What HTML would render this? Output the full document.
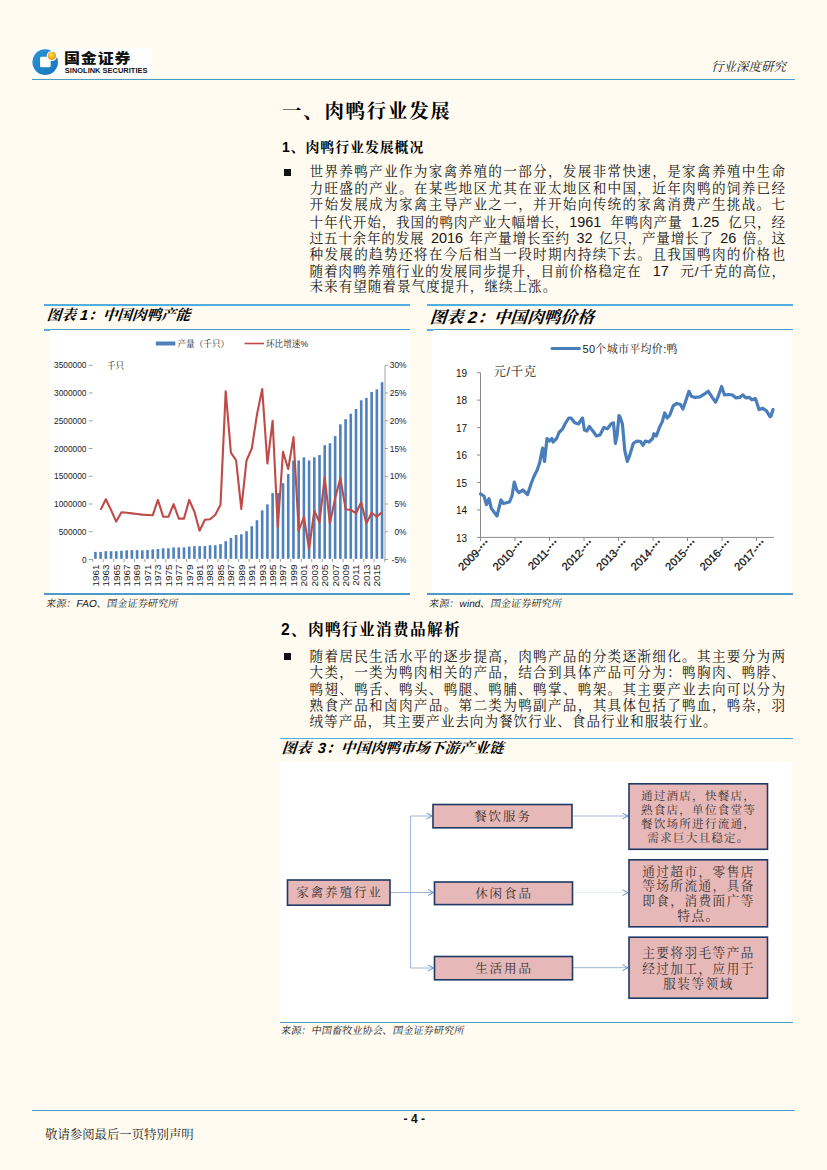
<!DOCTYPE html>
<html lang="zh-CN"><head><meta charset="utf-8"><title>行业深度研究</title>
<style>
*{margin:0;padding:0;box-sizing:border-box}
html,body{width:827px;height:1170px;overflow:hidden;background:#fffbf0}
body{position:relative;font-family:"Liberation Sans","Noto Serif CJK SC",serif;color:#111}
.abs{position:absolute;white-space:nowrap}
.ln{position:absolute;left:309.5px;width:476.3px;height:16.45px;line-height:16.45px;font-size:13.6px;letter-spacing:0.7px;white-space:nowrap;text-align:justify;text-align-last:justify;color:#151515}
.ln.last{text-align:left;text-align-last:left;width:auto;letter-spacing:0.98px}
.hl{position:absolute;background:#50aee0}
.ft{position:absolute;font-weight:bold;font-style:italic;white-space:nowrap;color:#000;transform:skewX(-5deg);transform-origin:0 100%}
.src{position:absolute;margin-left:-1px;font-size:10.2px;transform:skewX(-9deg);transform-origin:0 100%;white-space:nowrap;color:#222;height:12px;line-height:12px}
.n{letter-spacing:0;font-size:14.4px}
.bul{position:absolute;left:284px;width:7px;height:7px;background:#111}
svg{position:absolute;left:0;top:0;overflow:visible}
svg text{font-family:"Liberation Sans","Noto Serif CJK SC",serif}
</style></head>
<body>
<div class="abs" style="left:32px;top:48px;width:120px;height:29px;background:#fff"></div>
<svg width="827" height="1170" viewBox="0 0 827 1170">
<defs>
<radialGradient id="gold" cx="0.4" cy="0.35" r="0.7"><stop offset="0" stop-color="#ffe070"/><stop offset="0.5" stop-color="#f6b422"/><stop offset="1" stop-color="#e0900e"/></radialGradient>
<linearGradient id="ring" x1="0" y1="0" x2="1" y2="1"><stop offset="0" stop-color="#2a94d4"/><stop offset="1" stop-color="#1676bc"/></linearGradient>
</defs>
<circle cx="45.2" cy="62.1" r="12.8" fill="url(#ring)"/>
<rect x="40.1" y="56.8" width="10.6" height="10.5" rx="1.4" fill="#fff"/>
<circle cx="51.9" cy="55.85" r="5.2" fill="#fff"/>
<circle cx="51.9" cy="55.85" r="4.1" fill="url(#gold)"/>
</svg>
<div class="abs" style="left:63.6px;top:48.5px;font-family:'Liberation Sans','Noto Sans CJK SC',sans-serif;font-weight:900;font-size:13.8px;line-height:20px;letter-spacing:0.7px;color:#111;transform:scaleX(1.16);transform-origin:0 0">国金证券</div>
<div class="abs" style="left:64.8px;top:66px;font-family:'Liberation Sans','Noto Sans CJK SC',sans-serif;font-weight:bold;font-size:7.4px;line-height:10px;letter-spacing:0.05px;color:#111">SINOLINK SECURITIES</div>
<div class="hl" style="left:32px;top:78.9px;width:763px;height:1.5px;background:#4a9bc8"></div>
<div class="abs" style="right:41px;top:59px;font-size:12.5px;line-height:16px;font-style:italic;color:#222">行业深度研究</div>
<div class="abs" style="left:282px;top:97px;font-size:19.4px;line-height:28px;font-weight:bold;letter-spacing:1.8px;color:#000">一、肉鸭行业发展</div>
<div class="abs" style="left:282px;top:136.5px;font-size:13.9px;line-height:20px;font-weight:bold;letter-spacing:0.95px;color:#000">1、肉鸭行业发展概况</div>
<div class="bul" style="top:169.0px"></div>
<div class="ln" style="top:164.28px;word-spacing:0px">世界养鸭产业作为家禽养殖的一部分，发展非常快速，是家禽养殖中生命</div>
<div class="ln" style="top:180.72px;word-spacing:0px">力旺盛的产业。在某些地区尤其在亚太地区和中国，近年肉鸭的饲养已经</div>
<div class="ln" style="top:197.18px;word-spacing:0px">开始发展成为家禽主导产业之一，并开始向传统的家禽消费产生挑战。七</div>
<div class="ln" style="top:213.62px;word-spacing:4.3px">十年代开始，我国的鸭肉产业大幅增长，<span class="n">1961</span> 年鸭肉产量 <span class="n">1.25</span> 亿只，经</div>
<div class="ln" style="top:230.08px;word-spacing:1.9px">过五十余年的发展 <span class="n">2016</span> 年产量增长至约 <span class="n">32</span> 亿只，产量增长了 <span class="n">26</span> 倍。这</div>
<div class="ln" style="top:246.53px;word-spacing:0px">种发展的趋势还将在今后相当一段时期内持续下去。且我国鸭肉的价格也</div>
<div class="ln" style="top:262.97px;word-spacing:6.8px">随着肉鸭养殖行业的发展同步提升，目前价格稳定在 <span class="n">17</span> 元/千克的高位，</div>
<div class="ln last" style="top:279.42px;word-spacing:0px">未来有望随着景气度提升，继续上涨。</div>
<div class="hl" style="left:44px;top:304.2px;width:366px;height:1.6px"></div>
<div class="hl" style="left:44px;top:329.3px;width:366px;height:1.2px;background:#4a9bc8"></div>
<div class="hl" style="left:44px;top:329px;width:6px;height:2px"></div>
<div class="ft" style="left:45.5px;top:304.5px;font-size:14.6px;line-height:20px">图表 1：中国肉鸭产能</div>
<div class="hl" style="left:427px;top:304.2px;width:365.8px;height:1.6px"></div>
<div class="hl" style="left:427px;top:329.3px;width:365.8px;height:1.2px;background:#4a9bc8"></div>
<div class="hl" style="left:427px;top:329px;width:6px;height:2px"></div>
<div class="ft" style="left:429px;top:306.5px;font-size:16.67px;line-height:22px">图表 2：中国肉鸭价格</div>
<div class="abs" style="left:50px;top:331px;width:360px;height:262px;background:#fff"></div>
<div class="abs" style="left:432px;top:331px;width:360px;height:262px;background:#fff"></div>
<div class="hl" style="left:44px;top:593.4px;width:366px;height:1.4px;background:#4a9bc8"></div>
<div class="hl" style="left:427px;top:593.4px;width:365.8px;height:1.4px;background:#4a9bc8"></div>
<div class="src" style="left:45.5px;top:598px">来源：FAO、国金证券研究所</div>
<div class="src" style="left:429px;top:598px">来源：wind、国金证券研究所</div>
<svg width="827" height="1170" viewBox="0 0 827 1170">
<g fill="#4f81bd">
<rect x="94.10" y="551.9" width="2.6" height="6.9"/>
<rect x="99.31" y="551.9" width="2.6" height="6.9"/>
<rect x="104.52" y="551.2" width="2.6" height="7.6"/>
<rect x="109.74" y="551.2" width="2.6" height="7.6"/>
<rect x="114.95" y="551.2" width="2.6" height="7.6"/>
<rect x="120.16" y="550.8" width="2.6" height="8.0"/>
<rect x="125.37" y="550.3" width="2.6" height="8.5"/>
<rect x="130.58" y="550.1" width="2.6" height="8.7"/>
<rect x="135.80" y="550.1" width="2.6" height="8.7"/>
<rect x="141.01" y="550.3" width="2.6" height="8.5"/>
<rect x="146.22" y="550.1" width="2.6" height="8.7"/>
<rect x="151.43" y="549.4" width="2.6" height="9.4"/>
<rect x="156.64" y="549.0" width="2.6" height="9.8"/>
<rect x="161.86" y="548.3" width="2.6" height="10.5"/>
<rect x="167.07" y="548.3" width="2.6" height="10.5"/>
<rect x="172.28" y="547.4" width="2.6" height="11.4"/>
<rect x="177.49" y="547.4" width="2.6" height="11.4"/>
<rect x="182.70" y="547.4" width="2.6" height="11.4"/>
<rect x="187.92" y="546.6" width="2.6" height="12.2"/>
<rect x="193.13" y="546.1" width="2.6" height="12.7"/>
<rect x="198.34" y="546.1" width="2.6" height="12.7"/>
<rect x="203.55" y="546.1" width="2.6" height="12.7"/>
<rect x="208.76" y="545.2" width="2.6" height="13.6"/>
<rect x="213.98" y="545.2" width="2.6" height="13.6"/>
<rect x="219.19" y="544.1" width="2.6" height="14.7"/>
<rect x="224.40" y="541.2" width="2.6" height="17.6"/>
<rect x="229.61" y="537.9" width="2.6" height="20.9"/>
<rect x="234.82" y="535.0" width="2.6" height="23.8"/>
<rect x="240.04" y="534.3" width="2.6" height="24.5"/>
<rect x="245.25" y="531.2" width="2.6" height="27.6"/>
<rect x="250.46" y="526.2" width="2.6" height="32.6"/>
<rect x="255.67" y="520.2" width="2.6" height="38.6"/>
<rect x="260.88" y="510.4" width="2.6" height="48.4"/>
<rect x="266.10" y="504.4" width="2.6" height="54.4"/>
<rect x="271.31" y="493.1" width="2.6" height="65.7"/>
<rect x="276.52" y="493.1" width="2.6" height="65.7"/>
<rect x="281.73" y="483.2" width="2.6" height="75.6"/>
<rect x="286.94" y="474.1" width="2.6" height="84.7"/>
<rect x="292.16" y="460.5" width="2.6" height="98.3"/>
<rect x="297.37" y="460.5" width="2.6" height="98.3"/>
<rect x="302.58" y="457.3" width="2.6" height="101.5"/>
<rect x="307.79" y="460.5" width="2.6" height="98.3"/>
<rect x="313.00" y="457.3" width="2.6" height="101.5"/>
<rect x="318.22" y="455.1" width="2.6" height="103.7"/>
<rect x="323.43" y="445.2" width="2.6" height="113.6"/>
<rect x="328.64" y="443.3" width="2.6" height="115.5"/>
<rect x="333.85" y="436.1" width="2.6" height="122.7"/>
<rect x="339.06" y="424.3" width="2.6" height="134.5"/>
<rect x="344.28" y="419.2" width="2.6" height="139.6"/>
<rect x="349.49" y="413.8" width="2.6" height="145.0"/>
<rect x="354.70" y="409.0" width="2.6" height="149.8"/>
<rect x="359.91" y="400.3" width="2.6" height="158.5"/>
<rect x="365.12" y="397.9" width="2.6" height="160.9"/>
<rect x="370.34" y="392.0" width="2.6" height="166.8"/>
<rect x="375.55" y="389.4" width="2.6" height="169.4"/>
<rect x="380.76" y="382.2" width="2.6" height="176.6"/>
</g>
<polyline points="100.6,509.9 105.8,499.3 111.0,509.9 116.2,521.6 121.5,512.2 126.7,512.8 131.9,513.4 137.1,514.0 142.3,514.6 147.5,515.0 152.7,515.3 157.9,499.9 163.2,516.8 168.4,516.8 173.6,504.1 178.8,518.6 184.0,518.6 189.2,499.9 194.4,511.7 199.6,530.7 204.9,519.8 210.1,519.3 215.3,514.8 220.5,504.8 225.7,391.2 230.9,452.7 236.1,460.3 241.3,508.9 246.5,460.5 251.8,448.5 257.0,414.4 262.2,389.0 267.4,463.5 272.6,420.8 277.8,527.0 283.0,451.7 288.2,469.0 293.5,437.1 298.7,530.7 303.9,517.0 309.1,548.8 314.3,510.7 319.5,522.5 324.7,477.2 329.9,523.4 335.2,498.0 340.4,478.1 345.6,509.2 350.8,510.0 356.0,513.2 361.2,502.3 366.4,523.4 371.6,512.7 376.8,516.8 382.1,512.0" fill="none" stroke="#be4b48" stroke-width="2.1" stroke-linejoin="round"/>
<g stroke="#8a8a8a" stroke-width="0.8">
<line x1="385" y1="365.3" x2="385" y2="559.5"/>
<line x1="88.8" y1="365.3" x2="92.6" y2="365.3"/>
<line x1="385" y1="365.3" x2="388" y2="365.3"/>
<line x1="88.8" y1="393.0" x2="92.6" y2="393.0"/>
<line x1="385" y1="393.0" x2="388" y2="393.0"/>
<line x1="88.8" y1="420.8" x2="92.6" y2="420.8"/>
<line x1="385" y1="420.8" x2="388" y2="420.8"/>
<line x1="88.8" y1="448.5" x2="92.6" y2="448.5"/>
<line x1="385" y1="448.5" x2="388" y2="448.5"/>
<line x1="88.8" y1="476.3" x2="92.6" y2="476.3"/>
<line x1="385" y1="476.3" x2="388" y2="476.3"/>
<line x1="88.8" y1="504.0" x2="92.6" y2="504.0"/>
<line x1="385" y1="504.0" x2="388" y2="504.0"/>
<line x1="88.8" y1="531.7" x2="92.6" y2="531.7"/>
<line x1="385" y1="531.7" x2="388" y2="531.7"/>
<line x1="88.8" y1="559.5" x2="92.6" y2="559.5"/>
<line x1="385" y1="559.5" x2="388" y2="559.5"/>
<line x1="92.8" y1="559" x2="92.8" y2="562"/>
<line x1="103.2" y1="559" x2="103.2" y2="562"/>
<line x1="113.6" y1="559" x2="113.6" y2="562"/>
<line x1="124.1" y1="559" x2="124.1" y2="562"/>
<line x1="134.5" y1="559" x2="134.5" y2="562"/>
<line x1="144.9" y1="559" x2="144.9" y2="562"/>
<line x1="155.3" y1="559" x2="155.3" y2="562"/>
<line x1="165.8" y1="559" x2="165.8" y2="562"/>
<line x1="176.2" y1="559" x2="176.2" y2="562"/>
<line x1="186.6" y1="559" x2="186.6" y2="562"/>
<line x1="197.0" y1="559" x2="197.0" y2="562"/>
<line x1="207.5" y1="559" x2="207.5" y2="562"/>
<line x1="217.9" y1="559" x2="217.9" y2="562"/>
<line x1="228.3" y1="559" x2="228.3" y2="562"/>
<line x1="238.7" y1="559" x2="238.7" y2="562"/>
<line x1="249.2" y1="559" x2="249.2" y2="562"/>
<line x1="259.6" y1="559" x2="259.6" y2="562"/>
<line x1="270.0" y1="559" x2="270.0" y2="562"/>
<line x1="280.4" y1="559" x2="280.4" y2="562"/>
<line x1="290.9" y1="559" x2="290.9" y2="562"/>
<line x1="301.3" y1="559" x2="301.3" y2="562"/>
<line x1="311.7" y1="559" x2="311.7" y2="562"/>
<line x1="322.1" y1="559" x2="322.1" y2="562"/>
<line x1="332.5" y1="559" x2="332.5" y2="562"/>
<line x1="343.0" y1="559" x2="343.0" y2="562"/>
<line x1="353.4" y1="559" x2="353.4" y2="562"/>
<line x1="363.8" y1="559" x2="363.8" y2="562"/>
<line x1="374.2" y1="559" x2="374.2" y2="562"/>
<line x1="384.7" y1="559" x2="384.7" y2="562"/>
</g>
<g font-size="8.4" fill="#222" style="font-family:'Liberation Sans',sans-serif">
<text x="86.5" y="368.3" text-anchor="end" textLength="32.5" lengthAdjust="spacingAndGlyphs">3500000</text>
<text x="86.5" y="396.0" text-anchor="end" textLength="32.5" lengthAdjust="spacingAndGlyphs">3000000</text>
<text x="86.5" y="423.8" text-anchor="end" textLength="32.5" lengthAdjust="spacingAndGlyphs">2500000</text>
<text x="86.5" y="451.5" text-anchor="end" textLength="32.5" lengthAdjust="spacingAndGlyphs">2000000</text>
<text x="86.5" y="479.3" text-anchor="end" textLength="32.5" lengthAdjust="spacingAndGlyphs">1500000</text>
<text x="86.5" y="507.0" text-anchor="end" textLength="32.5" lengthAdjust="spacingAndGlyphs">1000000</text>
<text x="86.5" y="534.7" text-anchor="end" textLength="27.8" lengthAdjust="spacingAndGlyphs">500000</text>
<text x="86.5" y="562.5" text-anchor="end" textLength="4.6" lengthAdjust="spacingAndGlyphs">0</text>
<text x="406.5" y="368.3" text-anchor="end">30%</text>
<text x="406.5" y="396.0" text-anchor="end">25%</text>
<text x="406.5" y="423.8" text-anchor="end">20%</text>
<text x="406.5" y="451.5" text-anchor="end">15%</text>
<text x="406.5" y="479.3" text-anchor="end">10%</text>
<text x="406.5" y="507.0" text-anchor="end">5%</text>
<text x="406.5" y="534.7" text-anchor="end">0%</text>
<text x="406.5" y="562.5" text-anchor="end">-5%</text>
</g>
<g font-size="9.9" fill="#222" style="font-family:'Liberation Sans',sans-serif">
<text x="98.7" y="564.5" text-anchor="end" transform="rotate(-90 98.7 564.5)">1961</text>
<text x="109.1" y="564.5" text-anchor="end" transform="rotate(-90 109.1 564.5)">1963</text>
<text x="119.5" y="564.5" text-anchor="end" transform="rotate(-90 119.5 564.5)">1965</text>
<text x="130.0" y="564.5" text-anchor="end" transform="rotate(-90 130.0 564.5)">1967</text>
<text x="140.4" y="564.5" text-anchor="end" transform="rotate(-90 140.4 564.5)">1969</text>
<text x="150.8" y="564.5" text-anchor="end" transform="rotate(-90 150.8 564.5)">1971</text>
<text x="161.2" y="564.5" text-anchor="end" transform="rotate(-90 161.2 564.5)">1973</text>
<text x="171.7" y="564.5" text-anchor="end" transform="rotate(-90 171.7 564.5)">1975</text>
<text x="182.1" y="564.5" text-anchor="end" transform="rotate(-90 182.1 564.5)">1977</text>
<text x="192.5" y="564.5" text-anchor="end" transform="rotate(-90 192.5 564.5)">1979</text>
<text x="202.9" y="564.5" text-anchor="end" transform="rotate(-90 202.9 564.5)">1981</text>
<text x="213.4" y="564.5" text-anchor="end" transform="rotate(-90 213.4 564.5)">1983</text>
<text x="223.8" y="564.5" text-anchor="end" transform="rotate(-90 223.8 564.5)">1985</text>
<text x="234.2" y="564.5" text-anchor="end" transform="rotate(-90 234.2 564.5)">1987</text>
<text x="244.6" y="564.5" text-anchor="end" transform="rotate(-90 244.6 564.5)">1989</text>
<text x="255.1" y="564.5" text-anchor="end" transform="rotate(-90 255.1 564.5)">1991</text>
<text x="265.5" y="564.5" text-anchor="end" transform="rotate(-90 265.5 564.5)">1993</text>
<text x="275.9" y="564.5" text-anchor="end" transform="rotate(-90 275.9 564.5)">1995</text>
<text x="286.3" y="564.5" text-anchor="end" transform="rotate(-90 286.3 564.5)">1997</text>
<text x="296.8" y="564.5" text-anchor="end" transform="rotate(-90 296.8 564.5)">1999</text>
<text x="307.2" y="564.5" text-anchor="end" transform="rotate(-90 307.2 564.5)">2001</text>
<text x="317.6" y="564.5" text-anchor="end" transform="rotate(-90 317.6 564.5)">2003</text>
<text x="328.0" y="564.5" text-anchor="end" transform="rotate(-90 328.0 564.5)">2005</text>
<text x="338.5" y="564.5" text-anchor="end" transform="rotate(-90 338.5 564.5)">2007</text>
<text x="348.9" y="564.5" text-anchor="end" transform="rotate(-90 348.9 564.5)">2009</text>
<text x="359.3" y="564.5" text-anchor="end" transform="rotate(-90 359.3 564.5)">2011</text>
<text x="369.7" y="564.5" text-anchor="end" transform="rotate(-90 369.7 564.5)">2013</text>
<text x="380.1" y="564.5" text-anchor="end" transform="rotate(-90 380.1 564.5)">2015</text>
</g>
<rect x="155.8" y="341.5" width="19.5" height="4" fill="#4f81bd"/>
<text x="177.5" y="346.5" font-size="8.6" fill="#222">产量（千只）</text>
<line x1="244.5" y1="343.5" x2="264" y2="343.5" stroke="#be4b48" stroke-width="1.6"/>
<text x="266" y="346.5" font-size="8.6" fill="#222">环比增速%</text>
<text x="107" y="369.3" font-size="8.6" fill="#222">千只</text>
</svg>
<svg width="827" height="1170" viewBox="0 0 827 1170">
<g stroke="#8a8a8a" stroke-width="1">
<line x1="480.5" y1="372.7" x2="480.5" y2="537.4"/>
<line x1="480.5" y1="537.4" x2="774" y2="537.4"/>
<line x1="477" y1="372.7" x2="480.5" y2="372.7"/>
<line x1="477" y1="400.1" x2="480.5" y2="400.1"/>
<line x1="477" y1="427.6" x2="480.5" y2="427.6"/>
<line x1="477" y1="455.0" x2="480.5" y2="455.0"/>
<line x1="477" y1="482.5" x2="480.5" y2="482.5"/>
<line x1="477" y1="509.9" x2="480.5" y2="509.9"/>
<line x1="477" y1="537.4" x2="480.5" y2="537.4"/>
<line x1="480.5" y1="537.4" x2="480.5" y2="541"/>
<line x1="515.0" y1="537.4" x2="515.0" y2="541"/>
<line x1="549.5" y1="537.4" x2="549.5" y2="541"/>
<line x1="584.0" y1="537.4" x2="584.0" y2="541"/>
<line x1="618.5" y1="537.4" x2="618.5" y2="541"/>
<line x1="653.0" y1="537.4" x2="653.0" y2="541"/>
<line x1="687.5" y1="537.4" x2="687.5" y2="541"/>
<line x1="722.0" y1="537.4" x2="722.0" y2="541"/>
<line x1="756.5" y1="537.4" x2="756.5" y2="541"/>
</g>
<g font-size="10" fill="#111" style="font-family:'Liberation Sans',sans-serif">
<text x="467" y="377.0" text-anchor="end">19</text>
<text x="467" y="404.4" text-anchor="end">18</text>
<text x="467" y="431.9" text-anchor="end">17</text>
<text x="467" y="459.3" text-anchor="end">16</text>
<text x="467" y="486.8" text-anchor="end">15</text>
<text x="467" y="514.2" text-anchor="end">14</text>
<text x="467" y="541.7" text-anchor="end">13</text>
<text x="490.5" y="543.5" font-size="11" stroke="#111" stroke-width="0.3" text-anchor="end" transform="rotate(-45 490.5 543.5)">2009-<tspan style="font-family:'Noto Sans CJK SC',sans-serif;font-weight:bold">…</tspan></text>
<text x="525.0" y="543.5" font-size="11" stroke="#111" stroke-width="0.3" text-anchor="end" transform="rotate(-45 525.0 543.5)">2010-<tspan style="font-family:'Noto Sans CJK SC',sans-serif;font-weight:bold">…</tspan></text>
<text x="559.5" y="543.5" font-size="11" stroke="#111" stroke-width="0.3" text-anchor="end" transform="rotate(-45 559.5 543.5)">2011-<tspan style="font-family:'Noto Sans CJK SC',sans-serif;font-weight:bold">…</tspan></text>
<text x="594.0" y="543.5" font-size="11" stroke="#111" stroke-width="0.3" text-anchor="end" transform="rotate(-45 594.0 543.5)">2012-<tspan style="font-family:'Noto Sans CJK SC',sans-serif;font-weight:bold">…</tspan></text>
<text x="628.5" y="543.5" font-size="11" stroke="#111" stroke-width="0.3" text-anchor="end" transform="rotate(-45 628.5 543.5)">2013-<tspan style="font-family:'Noto Sans CJK SC',sans-serif;font-weight:bold">…</tspan></text>
<text x="663.0" y="543.5" font-size="11" stroke="#111" stroke-width="0.3" text-anchor="end" transform="rotate(-45 663.0 543.5)">2014-<tspan style="font-family:'Noto Sans CJK SC',sans-serif;font-weight:bold">…</tspan></text>
<text x="697.5" y="543.5" font-size="11" stroke="#111" stroke-width="0.3" text-anchor="end" transform="rotate(-45 697.5 543.5)">2015-<tspan style="font-family:'Noto Sans CJK SC',sans-serif;font-weight:bold">…</tspan></text>
<text x="732.0" y="543.5" font-size="11" stroke="#111" stroke-width="0.3" text-anchor="end" transform="rotate(-45 732.0 543.5)">2016-<tspan style="font-family:'Noto Sans CJK SC',sans-serif;font-weight:bold">…</tspan></text>
<text x="766.5" y="543.5" font-size="11" stroke="#111" stroke-width="0.3" text-anchor="end" transform="rotate(-45 766.5 543.5)">2017-<tspan style="font-family:'Noto Sans CJK SC',sans-serif;font-weight:bold">…</tspan></text>
</g>
<polyline points="480.5,493.9 484.0,496.0 486.5,504.7 489.0,498.7 491.3,508.4 497.0,516.0 501.0,500.0 503.4,503.5 509.5,502.0 512.0,496.0 514.3,482.0 516.7,490.0 519.0,492.6 522.8,490.0 527.6,494.6 531.0,484.0 533.7,477.0 537.3,469.7 539.7,462.5 542.6,448.0 544.5,461.5 547.0,438.5 549.4,441.0 551.8,438.5 553.0,442.0 556.6,438.5 559.0,432.5 562.7,428.8 565.0,424.0 568.7,418.0 571.0,418.0 574.8,422.8 578.4,424.0 580.8,420.4 582.5,418.0 584.4,430.0 586.9,431.0 589.3,426.4 592.9,431.0 596.5,436.0 600.0,434.9 603.8,427.6 607.4,428.8 611.0,424.0 613.5,422.8 615.4,443.3 617.0,436.0 619.0,415.5 620.0,416.7 622.4,424.0 624.8,450.6 627.3,461.5 629.7,455.4 633.3,443.3 636.9,441.0 640.6,441.6 643.0,445.3 645.4,441.0 649.0,442.0 652.6,438.5 653.9,433.7 656.3,436.0 659.9,426.4 662.3,421.6 664.7,413.0 667.2,418.0 669.6,415.5 673.2,405.9 676.8,403.4 680.5,404.6 682.9,409.0 685.3,402.2 688.9,391.3 691.3,396.2 695.0,397.4 699.8,396.9 704.6,393.8 708.3,391.3 711.9,396.9 715.5,402.2 718.0,396.9 721.6,386.5 724.5,395.0 728.8,394.5 732.5,395.0 736.0,397.9 739.7,397.4 742.9,395.0 745.8,397.9 749.4,397.4 751.8,399.8 755.4,398.6 759.0,409.5 762.7,408.3 766.3,410.7 770.0,416.7 771.0,416.2 773.0,409.5" fill="none" stroke="#4a7ebb" stroke-width="3.2" stroke-linejoin="round" stroke-linecap="round"/>
<line x1="552" y1="348.5" x2="579.5" y2="348.5" stroke="#4a7ebb" stroke-width="3" stroke-linecap="round"/>
<text x="582.5" y="352.5" font-size="11" letter-spacing="0.3" fill="#222">50个城市平均价:鸭</text>
<text x="493.5" y="375.7" font-size="12.4" letter-spacing="0.7" fill="#222">元/千克</text>
</svg>
<div class="abs" style="left:281px;top:619.2px;font-size:15.7px;line-height:22px;font-weight:bold;letter-spacing:1.3px;color:#000">2、肉鸭行业消费品解析</div>
<div class="bul" style="top:653.4px"></div>
<div class="ln" style="top:648.67px">随着居民生活水平的逐步提高，肉鸭产品的分类逐渐细化。其主要分为两</div>
<div class="ln" style="top:665.12px">大类，一类为鸭肉相关的产品，结合到具体产品可分为：鸭胸肉、鸭脖、</div>
<div class="ln" style="top:681.57px">鸭翅、鸭舌、鸭头、鸭腿、鸭脯、鸭掌、鸭架。其主要产业去向可以分为</div>
<div class="ln" style="top:698.02px">熟食产品和卤肉产品。第二类为鸭副产品，其具体包括了鸭血，鸭杂，羽</div>
<div class="ln last" style="top:714.47px">绒等产品，其主要产业去向为餐饮行业、食品行业和服装行业。</div>
<div class="hl" style="left:280px;top:737.6px;width:513.2px;height:1.7px"></div>
<div class="ft" style="left:280.5px;top:738px;font-size:14.58px;line-height:20px;word-spacing:2px;letter-spacing:0.25px">图表 3：中国肉鸭市场下游产业链</div>
<div class="abs" style="left:280px;top:762px;width:512px;height:260px;background:#fff"></div>
<div class="hl" style="left:280px;top:1021.7px;width:513.2px;height:1.4px;background:#4a9bc8"></div>
<div class="src" style="left:280.5px;top:1024.6px">来源：中国畜牧业协会、国金证券研究所</div>
<svg width="827" height="1170" viewBox="0 0 827 1170">
<defs><marker id="ah" markerWidth="8" markerHeight="8" refX="6" refY="3.5" orient="auto" markerUnits="userSpaceOnUse"><path d="M0.5,0.5 L6,3.5 L0.5,6.5" fill="none" stroke="#5b86bd" stroke-width="0.9"/></marker></defs>
<g fill="none" stroke="#93afd6" stroke-width="0.9">
<path d="M390.5,892.5 H410.5 M410.5,816 V968"/>
<path d="M410.5,816 H432" marker-end="url(#ah)"/>
<path d="M410.5,892.5 H433.5" marker-end="url(#ah)"/>
<path d="M410.5,968 H433.5" marker-end="url(#ah)"/>
<path d="M572.5,816 H628" marker-end="url(#ah)"/>
<path d="M573,892.7 H628" stroke-opacity="0.25" marker-end="url(#ah)"/>
<path d="M573,967.7 H628" marker-end="url(#ah)"/>
</g>
<g fill="#e6b9b8" stroke="#1f3864" stroke-width="1.6">
<rect x="287.5" y="880" width="102.5" height="25.2"/>
<rect x="433" y="804.5" width="139" height="23.3"/>
<rect x="434.5" y="882" width="138" height="22.6"/>
<rect x="434.5" y="956.5" width="138" height="23.3"/>
<rect x="629" y="783.8" width="138.5" height="65.5"/>
<rect x="629" y="859.8" width="138.5" height="67"/>
<rect x="629" y="937.2" width="138.5" height="61"/>
</g>
<text x="339.5" y="897.2" font-size="12.5" letter-spacing="1.9" text-anchor="middle" fill="#3a3030">家禽养殖行业</text>
<text x="503" y="820.6" font-size="12.5" letter-spacing="1.9" text-anchor="middle" fill="#3a3030">餐饮服务</text>
<text x="504" y="897.7" font-size="12.5" letter-spacing="1.9" text-anchor="middle" fill="#3a3030">休闲食品</text>
<text x="504" y="972.6" font-size="12.5" letter-spacing="1.9" text-anchor="middle" fill="#3a3030">生活用品</text>
<text x="698.5" y="799.5" font-size="11.6" letter-spacing="1.2" text-anchor="middle" fill="#3a3030">通过酒店，快餐店，</text>
<text x="698.5" y="813.7" font-size="11.6" letter-spacing="1.2" text-anchor="middle" fill="#3a3030">熟食店，单位食堂等</text>
<text x="698.5" y="827.9" font-size="11.6" letter-spacing="1.2" text-anchor="middle" fill="#3a3030">餐饮场所进行流通，</text>
<text x="698.5" y="842.1" font-size="11.6" letter-spacing="1.2" text-anchor="middle" fill="#3a3030">需求巨大且稳定。</text>
<text x="698.5" y="875.6" font-size="12.6" letter-spacing="1.5" text-anchor="middle" fill="#3a3030">通过超市，零售店</text>
<text x="698.5" y="890.4" font-size="12.6" letter-spacing="1.5" text-anchor="middle" fill="#3a3030">等场所流通，具备</text>
<text x="698.5" y="905.2" font-size="12.6" letter-spacing="1.5" text-anchor="middle" fill="#3a3030">即食，消费面广等</text>
<text x="698.5" y="920.0" font-size="12.6" letter-spacing="1.5" text-anchor="middle" fill="#3a3030">特点。</text>
<text x="698.5" y="957.4" font-size="12.6" letter-spacing="1.5" text-anchor="middle" fill="#3a3030">主要将羽毛等产品</text>
<text x="698.5" y="972.8" font-size="12.6" letter-spacing="1.5" text-anchor="middle" fill="#3a3030">经过加工，应用于</text>
<text x="698.5" y="988.1999999999999" font-size="12.6" letter-spacing="1.5" text-anchor="middle" fill="#3a3030">服装等领域</text>
</svg>
<div class="hl" style="left:32px;top:1109.8px;width:763px;height:1.4px;background:#4a9bc8"></div>
<div class="abs" style="left:0;width:827px;text-align:center;top:1111.5px;padding-left:1.5px;font-size:12px;line-height:14px;font-weight:bold;font-family:'Liberation Sans',sans-serif;color:#111">- 4 -</div>
<div class="abs" style="left:45px;top:1127px;font-size:12.4px;line-height:16px;color:#222">敬请参阅最后一页特别声明</div>
</body></html>
